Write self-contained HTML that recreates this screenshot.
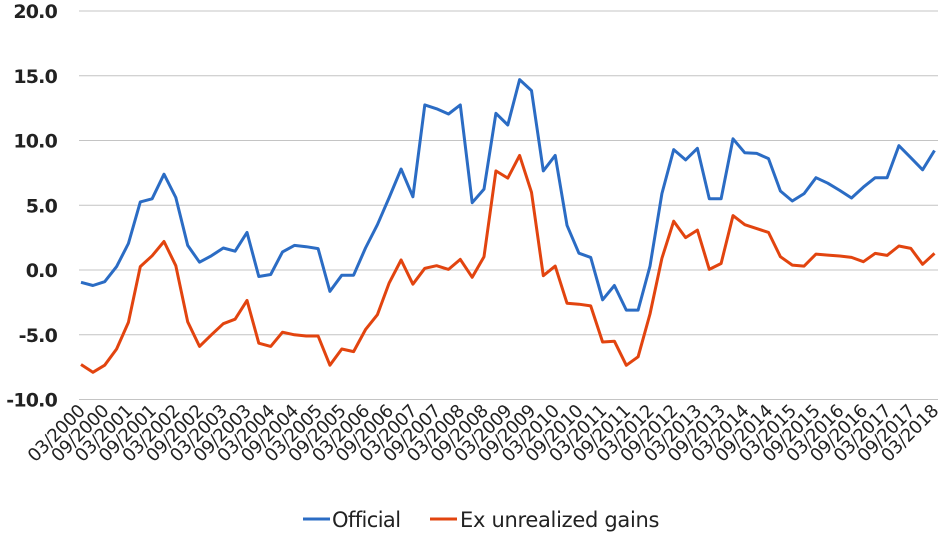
<!DOCTYPE html>
<html><head><meta charset="utf-8"><style>
body{margin:0;background:#fff;}
svg text{font-family:"DejaVu Sans","Liberation Sans",sans-serif;fill:#222;}
</style></head><body>
<svg id="chart" width="941" height="538" xmlns="http://www.w3.org/2000/svg">
<g id="grid"></g>
<g id="yaxis"></g>
<g id="xaxis"></g>
<g id="series"></g>
<g>
<line x1="303" y1="519" x2="330" y2="519" stroke="#2b6cc4" stroke-width="3"/>
<text x="332" y="527" font-size="21" letter-spacing="-0.6">Official</text>
<line x1="430" y1="519" x2="457" y2="519" stroke="#e2440f" stroke-width="3"/>
<text x="460" y="527" font-size="21" letter-spacing="-0.3">Ex unrealized gains</text>
</g>
</svg>
<script>
const yTicks=[20,15,10,5,0,-5,-10];
const official=[-0.95,-1.2,-0.9,0.26,2.05,5.26,5.5,7.4,5.6,1.9,0.6,1.1,1.7,1.45,2.9,-0.5,-0.35,1.4,1.9,1.8,1.65,-1.65,-0.4,-0.4,1.7,3.5,5.6,7.8,5.65,12.75,12.45,12.05,12.75,5.2,6.25,12.1,11.2,14.7,13.85,7.65,8.85,3.45,1.3,0.97,-2.3,-1.2,-3.1,-3.1,0.3,5.9,9.3,8.5,9.4,5.5,5.5,10.13,9.05,9.0,8.6,6.1,5.33,5.9,7.13,6.7,6.15,5.56,6.4,7.13,7.13,9.6,8.67,7.74,9.23];
const exGains=[-7.3,-7.9,-7.35,-6.1,-4.05,0.26,1.1,2.2,0.33,-4.0,-5.9,-5.0,-4.15,-3.8,-2.35,-5.65,-5.9,-4.8,-5.0,-5.1,-5.1,-7.35,-6.1,-6.3,-4.6,-3.45,-1.0,0.77,-1.1,0.13,0.33,0.05,0.82,-0.56,1.03,7.65,7.1,8.85,6.0,-0.44,0.3,-2.56,-2.64,-2.77,-5.56,-5.5,-7.36,-6.7,-3.4,0.9,3.77,2.5,3.08,0.05,0.5,4.2,3.5,3.2,2.9,1.03,0.38,0.3,1.23,1.15,1.08,0.97,0.64,1.28,1.13,1.85,1.67,0.44,1.28];
const startYear=2000;
const NS="http://www.w3.org/2000/svg";
const n=official.length;
const x0=81,x1=934.5;
function xs(i){return x0+(x1-x0)*i/(n-1);}
function ys(v){return 270-v*12.95;}
function mk(tag,attrs,parent){const e=document.createElementNS(NS,tag);for(const k in attrs)e.setAttribute(k,attrs[k]);parent.appendChild(e);return e;}
const grid=document.getElementById('grid'),yaxis=document.getElementById('yaxis'),xaxis=document.getElementById('xaxis'),series=document.getElementById('series');
yTicks.forEach(t=>{
 const l=mk('line',{x1:79,x2:938,y1:ys(t),y2:ys(t),stroke:'#c4c4c4','stroke-width':1},grid);
 
 
 const tx=mk('text',{x:57,y:ys(t)+7,'text-anchor':'end','font-size':19,'font-weight':'bold','letter-spacing':'-0.8'},yaxis);
 tx.textContent=t.toFixed(1);
 
 
});
for(let i=0;i<n;i+=2){
 const q=i%4===0?'03':'09';
 const yr=startYear+Math.floor(i/4);
 const x=xs(i)+5,y=412;
 const tx=mk('text',{x:x,y:y,'text-anchor':'end','font-size':18,'letter-spacing':'-0.4',transform:`rotate(-45 ${x} ${y})`},xaxis);
 tx.textContent=q+'/'+yr;
 
 
}
function drawLine(arr,color,name){
 const p=mk('polyline',{points:arr.map((v,i)=>xs(i).toFixed(1)+','+ys(v).toFixed(1)).join(' '),fill:'none',stroke:color,'stroke-width':3,'stroke-linejoin':'round'},series);
 
 
}
drawLine(official,'#2b6cc4','official-line');
drawLine(exGains,'#e2440f','ex-unrealized-gains-line');
</script>
</body></html>
